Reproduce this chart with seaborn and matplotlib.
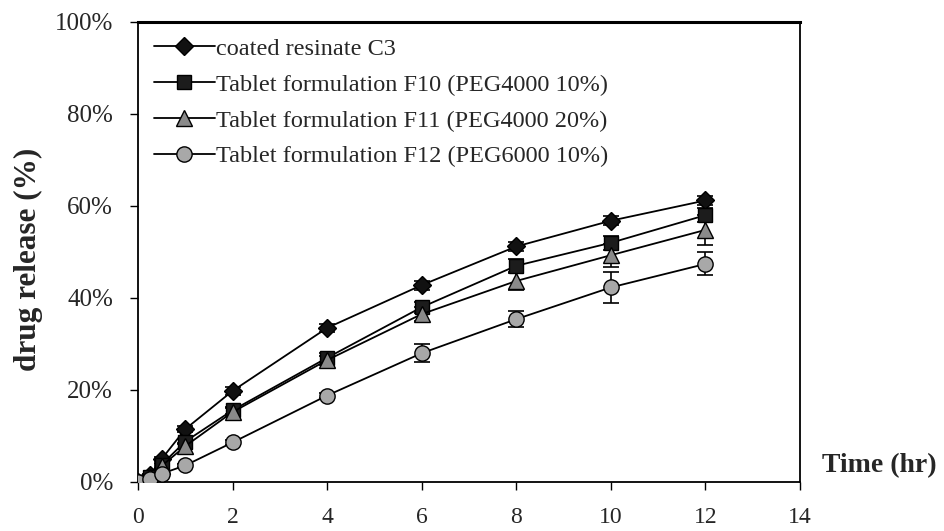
import matplotlib
matplotlib.use("Agg")
import matplotlib.pyplot as plt
import seaborn as sns
import pandas as pd

# Dissolution profiles: cumulative drug release (%) versus time (hr)
time_hr = [0, 0.25, 0.5, 1, 2, 4, 6, 8, 10, 12]
c3_release = [0, 1.5, 5.0, 11.5, 19.8, 33.5, 42.8, 51.2, 56.8, 61.2]
f10_release = [0, 1.0, 3.8, 8.8, 15.6, 27.0, 38.0, 47.0, 52.0, 58.0]
f11_release = [0, 1.0, 3.5, 7.8, 15.2, 26.5, 36.5, 43.7, 49.3, 54.8]
f12_release = [0, 0.6, 1.8, 3.6, 8.6, 18.8, 28.0, 35.4, 42.3, 47.4]

c3_sd = [0, 0.2, 0.4, 0.6, 0.8, 0.8, 1.0, 1.0, 1.0, 1.0]
f10_sd = [0, 0.2, 0.4, 0.6, 0.8, 1.0, 1.2, 1.5, 1.5, 1.5]
f11_sd = [0, 0.2, 0.4, 0.6, 0.8, 1.0, 1.5, 2.0, 2.5, 3.3]
f12_sd = [0, 0.2, 0.3, 0.4, 0.5, 0.6, 2.0, 1.8, 3.3, 2.5]

series_names = [
    "coated resinate C3",
    "Tablet formulation F10 (PEG4000 10%)",
    "Tablet formulation F11 (PEG4000 20%)",
    "Tablet formulation F12 (PEG6000 10%)",
]
y_ticks = [0, 20, 40, 60, 80, 100]
x_ticks = [0, 2, 4, 6, 8, 10, 12, 14]

series_values = [c3_release, f10_release, f11_release, f12_release]
series_sd = [c3_sd, f10_sd, f11_sd, f12_sd]
markers = ["D", "s", "^", "o"]
marker_faces = ["#111111", "#1c1c1c", "#8a8a8a", "#a8a8a8"]
marker_sizes = [9.5, 10, 11.5, 11]

records = []
for name, vals, sds in zip(series_names, series_values, series_sd):
    for t, v, s in zip(time_hr, vals, sds):
        records.append({"time": t, "release": v, "sd": s, "series": name})
df = pd.DataFrame(records)

sns.set_theme(style="white")
plt.rcParams["font.family"] = ["Liberation Serif", "DejaVu Serif"]

fig = plt.figure(figsize=(9.44, 5.31), dpi=100)
ax = fig.add_axes([138 / 944, 49 / 531, 662 / 944, 460 / 531])

for name, mk, fc, ms in zip(series_names, markers, marker_faces, marker_sizes):
    sub = df[df["series"] == name]
    ax.errorbar(sub["time"], sub["release"], yerr=sub["sd"], fmt="none",
                ecolor="black", elinewidth=1.2, capsize=6, capthick=1.2, zorder=2)
    sns.lineplot(data=sub, x="time", y="release", ax=ax, label=name,
                 color="black", linewidth=1.3, marker=mk, markersize=ms,
                 markerfacecolor=fc, markeredgecolor="black", markeredgewidth=1.0,
                 zorder=3)

ax.set_xlim(0, 14)
ax.set_ylim(0, 100)
ax.set_xticks(x_ticks)
ax.set_yticks(y_ticks)
ax.set_yticklabels([f"{v}%" for v in y_ticks], fontsize=18)
ax.set_xticklabels([str(v) for v in x_ticks], fontsize=17)
ax.tick_params(axis="both", direction="out", length=6, width=1.0, color="black",
               bottom=True, left=True)
ax.tick_params(axis="y", pad=12)
ax.tick_params(axis="x", pad=12)
ax.set_xlabel("")
ax.set_ylabel("drug release (%)", fontsize=22.5, fontweight="bold")
ax.yaxis.set_label_coords(-0.143, 0.483)

for side in ["left", "right", "top", "bottom"]:
    ax.spines[side].set_visible(True)
    ax.spines[side].set_color("black")
    ax.spines[side].set_linewidth(1.3)
ax.spines["top"].set_linewidth(2.2)

fig.text(822 / 944, 1 - 466 / 531, "Time (hr)", fontsize=20, fontweight="bold",
         ha="left", va="center")

leg = ax.legend(loc="upper left", frameon=False, fontsize=17.5, handlelength=2.5,
                handletextpad=0.05, labelspacing=0.57, borderaxespad=0.25,
                bbox_to_anchor=(0.0, 1.0))

fig.savefig("out.png", dpi=100, facecolor="white")
